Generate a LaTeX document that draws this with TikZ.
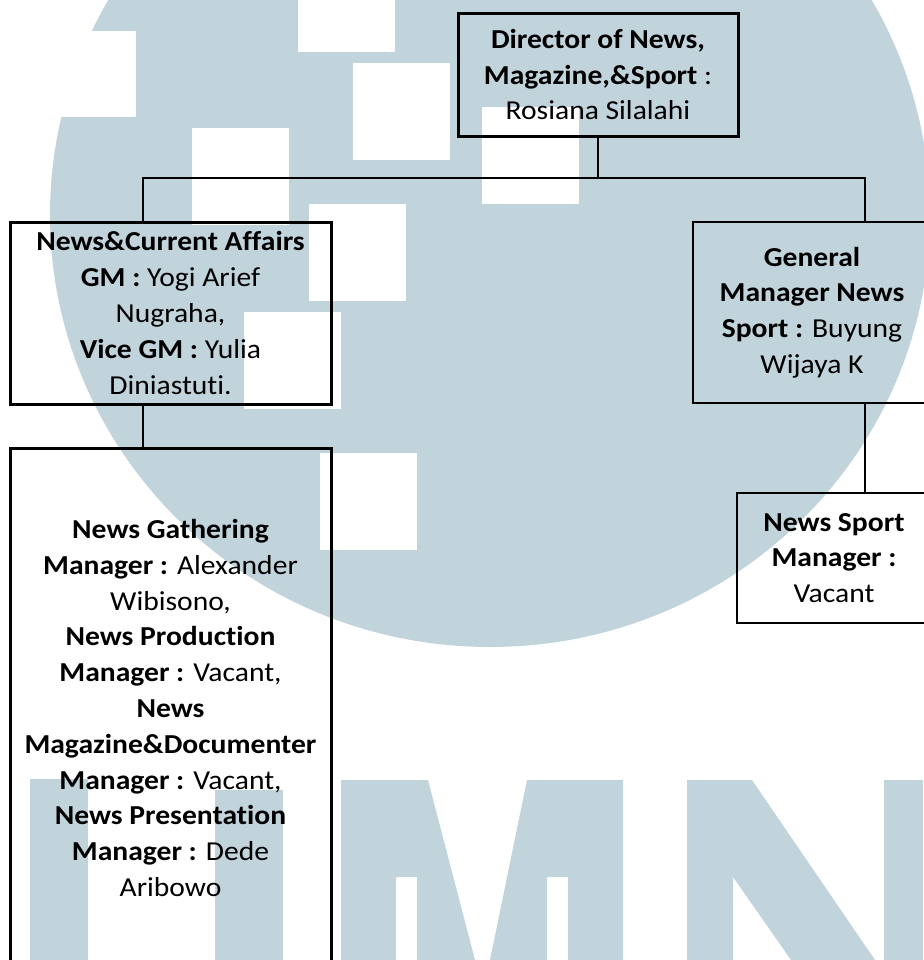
\documentclass[tikz,border=0pt]{standalone}
\usepackage{fontspec}
\setmainfont{Carlito}[FakeStretch=1.08, Ligatures={NoCommon}]
\usetikzlibrary{positioning}
\definecolor{umnblue}{RGB}{194,212,219}
\tikzstyle{post} = [rectangle, draw=black, line width=1.5pt, align=center, inner sep=0pt, outer sep=0pt]
\tikzstyle{thinpost} = [post, line width=1pt]
\tikzstyle{link} = [line width=0.85pt]
\tikzstyle{wmark} = [fill=umnblue]
\tikzstyle{hole} = [fill=white]

\begin{document}
\begin{tikzpicture}[x=0.5pt, y=-0.5pt, font=\fontsize{13.7}{17.9}\selectfont]
\useasboundingbox (0,0) rectangle (923,960);

% watermark
\fill[wmark] (490,215) ellipse [x radius=220pt, y radius=216pt];
\foreach \x/\y in {298/-45, 353/63, 482/107, 192/128, 309/204, 244/312, 320/453}
	\fill[hole] (\x,\y) rectangle ++(97,97);
\fill[hole] (39,31) rectangle (136,117);
\fill[wmark] (30,779) rectangle (88,960);
\fill[wmark] (215,790) rectangle (283,960);
\fill[wmark] (341,780) -- (428,780) -- (475,960) -- (417,960) -- (417,877) -- (396,877) -- (396,960) -- (341,960) -- cycle;
\fill[wmark] (623,780) -- (527,780) -- (490,960) -- (547,960) -- (547,877) -- (568,877) -- (568,960) -- (623,960) -- cycle;
\fill[wmark] (687,780) -- (752,780) -- (875,960) -- (791,960) -- (733,877) -- (733,960) -- (687,960) -- cycle;
\fill[wmark] (884,780) rectangle (923,960);

\node (director) [post, minimum width=140pt, minimum height=61.5pt] at (598,74.5) {\textbf{Director of News,}\\\textbf{Magazine,\&Sport} :\\Rosiana Silalahi};
\node (newscurrent) [post, minimum width=160.5pt, minimum height=91pt] at (170.5,313) {\textbf{News\&Current Affairs}\\\textbf{GM :} Yogi Arief\\Nugraha,\\\textbf{Vice GM :} Yulia\\Diniastuti.};
\node (gmsport) [thinpost, minimum width=119pt, minimum height=90.5pt] at (812,312.5) {\textbf{General}\\\textbf{Manager News}\\\textbf{Sport :} Buyung\\Wijaya K};
\node (gathering) [post, minimum width=160.5pt, minimum height=260pt, below=22pt of newscurrent] {\textbf{News Gathering}\\\textbf{Manager :} Alexander\\Wibisono,\\\textbf{News Production}\\\textbf{Manager :} Vacant,\\\textbf{News}\\\textbf{Magazine\&Documenter}\\\textbf{Manager :} Vacant,\\\textbf{News Presentation}\\\textbf{Manager :} Dede\\Aribowo};
\node (sportmgr) [thinpost, minimum width=97pt, minimum height=65pt, below=45pt of gmsport, xshift=11pt] {\textbf{News Sport}\\\textbf{Manager :}\\Vacant};

\coordinate (busL) at (143,178);
\coordinate (busR) at (865,178);
\draw [link] (director.south) |- (busL) -- (busL |- newscurrent.north);
\draw [link] (director.south) |- (busR) -- (busR |- gmsport.north);
\draw [link] (busL |- newscurrent.south) -- (busL |- gathering.north);
\draw [link] (busR |- gmsport.south) -- (busR |- sportmgr.north);
\end{tikzpicture}
\end{document}
